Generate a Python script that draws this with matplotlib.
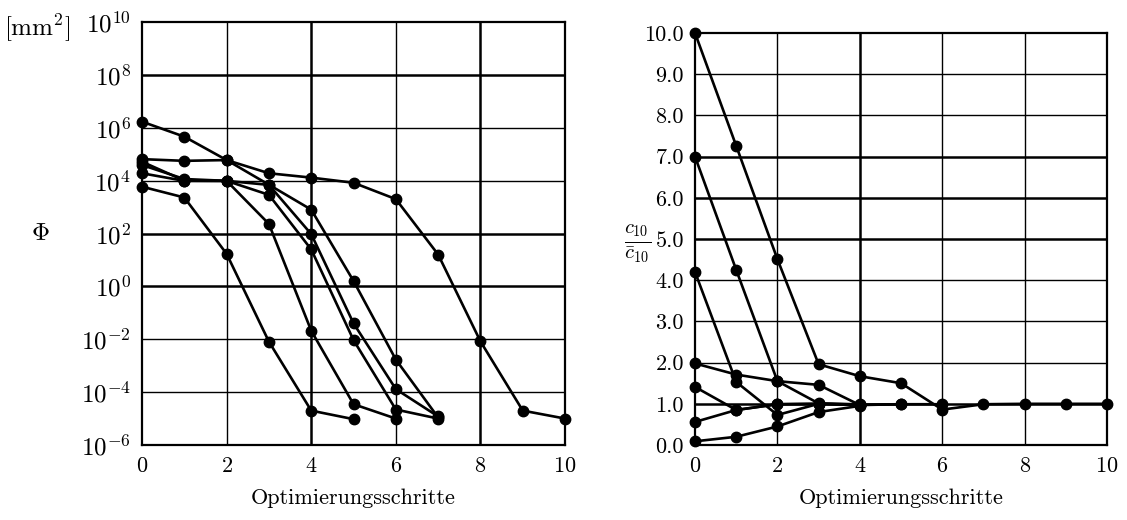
import matplotlib
matplotlib.use("Agg")
import matplotlib.pyplot as plt
from matplotlib.ticker import FixedLocator, NullLocator, FuncFormatter

# LaTeX-like look
plt.rcParams.update({
    "font.family": "serif",
    "font.serif": ["cmr10", "DejaVu Serif"],
    "mathtext.fontset": "cm",
    "axes.formatter.use_mathtext": True,
    "font.size": 15,
})

# ---- data: objective value Phi per optimisation step (left) ----
phi_run1 = [1.7e6, 4.6e5, 6.0e4, 7.0e3, 8.0e2, 1.6e0, 1.7e-3, 1.1e-5]
phi_run2 = [6.5e4, 5.6e4, 6.0e4, 1.9e4, 1.3e4, 8.3e3, 2.0e3, 1.6e1, 8.3e-3, 2.0e-5, 1.0e-5]
phi_run3 = [5.9e3, 2.3e3, 1.7e1, 8.1e-3, 2.0e-5, 9.5e-6]
phi_run4 = [5.2e4, 1.0e4, 9.8e3, 2.3e2, 2.1e-2, 3.5e-5, 1.0e-5]
phi_run5 = [3.9e4, 1.15e4, 9.8e3, 6.9e3, 9.5e1, 4.0e-2, 1.3e-4, 1.2e-5]
phi_run6 = [1.9e4, 9.8e3, 9.8e3, 2.9e3, 2.5e1, 9.3e-3, 2.2e-5, 1.0e-5]
phi_runs = [phi_run1, phi_run2, phi_run3, phi_run4, phi_run5, phi_run6]

# ---- data: c10 / c10_bar per optimisation step (right) ----
c_run1 = [10.0, 7.26, 4.51, 1.96, 1.67, 1.50, 0.86, 0.99, 1.0, 1.0, 1.0]
c_run2 = [7.0, 4.25, 1.55, 1.01, 0.98]
c_run3 = [4.20, 1.53, 0.73, 1.00, 0.97]
c_run4 = [1.98, 1.71, 1.55, 1.46, 0.97, 0.99, 0.99]
c_run5 = [1.41, 0.85, 0.99, 1.00, 0.98, 0.99]
c_run6 = [0.56, 0.85, 0.99, 1.00, 0.99]
c_run7 = [0.09, 0.20, 0.45, 0.80, 0.95]
c_runs = [c_run1, c_run2, c_run3, c_run4, c_run5, c_run6, c_run7]

phi_ticks = [1e-6, 1e-4, 1e-2, 1e0, 1e2, 1e4, 1e6, 1e8, 1e10]
step_ticks = [0, 2, 4, 6, 8, 10]
c_ticks = [0, 1, 2, 3, 4, 5, 6, 7, 8, 9, 10]

fig = plt.figure(figsize=(11.27, 5.2), dpi=100)
ax1 = fig.add_axes([0.1260, 0.1442, 0.3754, 0.8135])
ax2 = fig.add_axes([0.6167, 0.1442, 0.3656, 0.7923])

line_kw = dict(color="black", linewidth=1.9, marker="o", markersize=7.5,
               clip_on=False, zorder=3)

# left panel
for run in phi_runs:
    ax1.plot(range(len(run)), run, **line_kw)
ax1.set_yscale("log")
ax1.set_xlim(0, 10)
ax1.set_ylim(1e-6, 1e10)
ax1.yaxis.set_major_locator(FixedLocator(phi_ticks))
ax1.yaxis.set_minor_locator(NullLocator())
ax1.xaxis.set_major_locator(FixedLocator(step_ticks))
for y in phi_ticks[1:-1]:
    lw = 1.8 if y in (1e0, 1e2, 1e8) else 1.0
    ax1.axhline(y, color="black", linewidth=lw, zorder=1)
for x in step_ticks[1:-1]:
    lw = 1.8 if x in (4, 8) else 1.0
    ax1.axvline(x, color="black", linewidth=lw, zorder=1)
ax1.set_xlabel("Optimierungsschritte", labelpad=9, fontsize=16)
fig.text(0.036, 0.55, r"$\Phi$", ha="center", va="center", fontsize=18)
fig.text(0.033, 0.945, r"$[\mathrm{mm}^2]$", ha="center", va="center", fontsize=18)

# right panel
for run in c_runs:
    ax2.plot(range(len(run)), run, **line_kw)
ax2.set_xlim(0, 10)
ax2.set_ylim(0, 10)
ax2.yaxis.set_major_locator(FixedLocator(c_ticks))
ax2.yaxis.set_major_formatter(FuncFormatter(lambda v, p: f"{v:.1f}"))
ax2.xaxis.set_major_locator(FixedLocator(step_ticks))
for y in c_ticks[1:-1]:
    lw = 1.8 if y in (1, 5, 6, 7) else 1.0
    ax2.axhline(y, color="black", linewidth=lw, zorder=1)
for x in step_ticks[1:-1]:
    lw = 1.8 if x == 4 else 1.0
    ax2.axvline(x, color="black", linewidth=lw, zorder=1)
ax2.set_xlabel("Optimierungsschritte", labelpad=9, fontsize=16)
fig.text(0.5655, 0.532, r"$\frac{c_{10}}{\bar{c}_{10}}$", ha="center", va="center", fontsize=21)

for ax in (ax1, ax2):
    ax.tick_params(length=0, pad=8, labelsize=16)
    for s in ax.spines.values():
        s.set_linewidth(1.6)
        s.set_color("black")
ax1.tick_params(axis="y", labelsize=18)

fig.savefig("out.png", dpi=100)
